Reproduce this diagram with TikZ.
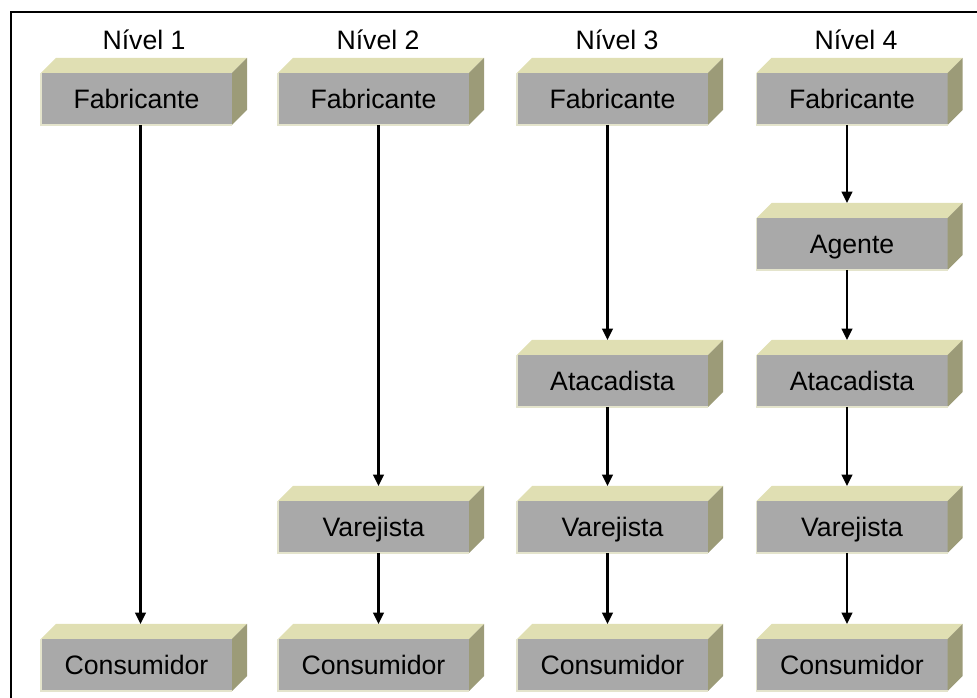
\documentclass[tikz,border=0pt]{standalone}
\usepackage{fontspec}
\setmainfont{Liberation Sans}
\usepackage{xcolor}
\usetikzlibrary{arrows.meta}

\definecolor{frente}{HTML}{A9A9A9}
\definecolor{topo}{HTML}{E0DFB3}
\definecolor{lado}{HTML}{9C9B78}
\definecolor{borda}{HTML}{E4E4CC}

\begin{document}
\begin{tikzpicture}[x=0.75pt,y=0.75pt,
  caixa/.style={fill=frente, minimum width=143.25pt, minimum height=39pt, inner sep=0pt, outer sep=0pt, text height=16.5pt, text depth=1.5pt, font=\fontsize{20}{24}\selectfont},
  titulo/.style={font=\fontsize{20}{24}\selectfont},
  seta/.style={-{Triangle[length=8.5pt,width=8pt]}, line width=1.6pt}]
\useasboundingbox (0,0) rectangle (977,698);
\clip (0,0) rectangle (977,698);
\draw[line width=1.4pt] (11,-20) rectangle (1000,686);

% titulos
\node[titulo] (n1) at (144,658) {Nível 1};
\node[titulo] (n2) at (378,658) {Nível 2};
\node[titulo] (n3) at (617,658) {Nível 3};
\node[titulo] (n4) at (856,658) {Nível 4};

% caixas
\node[caixa] (fab1) at (136.5,599) {Fabricante};
\node[caixa] (fab2) at (373.5,599) {Fabricante};
\node[caixa] (fab3) at (612.5,599) {Fabricante};
\node[caixa] (fab4) at (852,599) {Fabricante};
\node[caixa] (ag4) at (852,454) {Agente};
\node[caixa] (at3) at (612.5,317) {Atacadista};
\node[caixa] (at4) at (852,317) {Atacadista};
\node[caixa] (va2) at (373.5,171) {Varejista};
\node[caixa] (va3) at (612.5,171) {Varejista};
\node[caixa] (va4) at (852,171) {Varejista};
\node[caixa] (co1) at (136.5,33) {Consumidor};
\node[caixa] (co2) at (373.5,33) {Consumidor};
\node[caixa] (co3) at (612.5,33) {Consumidor};
\node[caixa] (co4) at (852,33) {Consumidor};

% faces 3D
\foreach \n in {fab1,fab2,fab3,fab4,ag4,at3,at4,va2,va3,va4,co1,co2,co3,co4} {
  \fill[topo] (\n.north west) -- (\n.north east) -- ++(15,15) -- ([shift={(15,15)}]\n.north west) -- cycle;
  \fill[lado] (\n.north east) -- (\n.south east) -- ++(15,15) -- ([shift={(15,15)}]\n.north east) -- cycle;
  \draw[borda, line width=1pt] (\n.north west) -- (\n.south west) -- (\n.south east);
}

% setas
\draw[seta] ([shift={(4,0)}]fab1.south) -- ([shift={(4,15)}]co1.north);
\draw[seta] ([shift={(5,0)}]fab2.south) -- ([shift={(5,15)}]va2.north);
\draw[seta] ([shift={(5,0)}]va2.south) -- ([shift={(5,15)}]co2.north);
\draw[seta] ([shift={(-5,0)}]fab3.south) -- ([shift={(-5,15)}]at3.north);
\draw[seta] ([shift={(-5,0)}]at3.south) -- ([shift={(-5,15)}]va3.north);
\draw[seta] ([shift={(-5,0)}]va3.south) -- ([shift={(-5,15)}]co3.north);
\draw[seta] ([shift={(-5,0)}]fab4.south) -- ([shift={(-5,15)}]ag4.north);
\draw[seta] ([shift={(-5,0)}]ag4.south) -- ([shift={(-5,15)}]at4.north);
\draw[seta] ([shift={(-5,0)}]at4.south) -- ([shift={(-5,15)}]va4.north);
\draw[seta] ([shift={(-5,0)}]va4.south) -- ([shift={(-5,15)}]co4.north);
\end{tikzpicture}
\end{document}
